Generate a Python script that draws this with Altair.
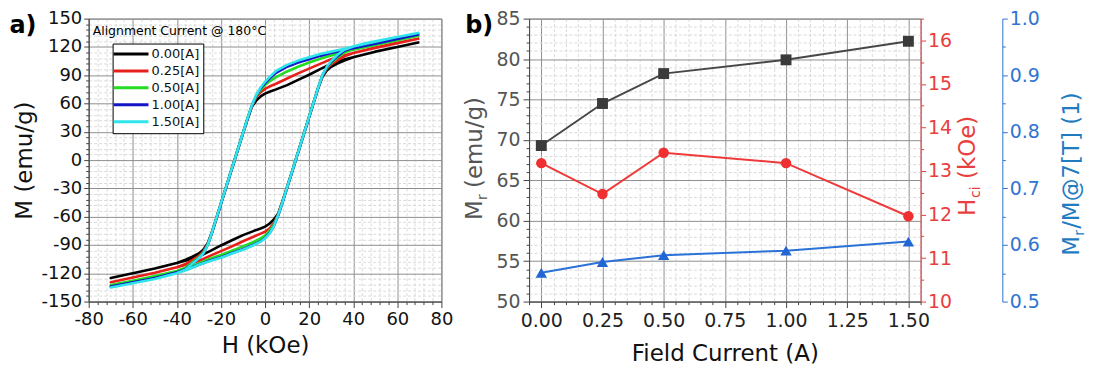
import altair as alt
import pandas as pd

# ---------------- Panel a: hysteresis loops ----------------
SERIES = ["0.00[A]", "0.25[A]", "0.50[A]", "1.00[A]", "1.50[A]"]
COLORS = ["#000000", "#e8201c", "#22dd22", "#1414c8", "#2fe4ea"]

H_DOWN = [70, 60, 50, 40, 35, 30, 25, 20, 15, 10, 5, 2, 0, -2, -4, -6, -8, -10, -12, -14,
          -16, -18, -20, -22, -24, -26, -28, -30, -33, -36, -40, -45, -50, -60, -70]
H_UP = [-70, -60, -50, -40, -35, -30, -25, -20, -15, -10, -5, -2, 0, 2, 4, 6, 8, 10, 12, 14,
        16, 18, 20, 22, 24, 26, 28, 30, 33, 36, 40, 45, 50, 60, 70]

M_DOWN_000 = [125, 120, 115, 109, 106, 102, 96.5, 90.5, 85, 79.5, 75, 72.5, 70.5, 67.5, 63, 56.5, 43, 28.5, 14, -1,
              -16, -31, -46, -61, -76, -88, -95, -99, -102.5, -105.5, -109, -112, -115, -120, -125]
M_UP_000 = [-125, -120, -115, -109, -106, -102, -96.5, -90.5, -85, -79.5, -75, -72.5, -70.5, -67.5, -63, -56.5, -43, -28.5, -14, 1,
            16, 31, 46, 61, 76, 88, 95, 99, 102.5, 105.5, 109, 112, 115, 120, 125]

M_DOWN_025 = [129, 124, 119, 113.5, 110.5, 107, 102, 97, 92, 86.5, 81, 78, 75.5, 72, 66.5, 57, 43.5, 29, 14, -1,
              -16, -31, -46, -61, -76, -89, -97, -101.5, -106, -110, -113.5, -116.5, -119.5, -124.5, -129.5]
M_UP_025 = [-129.5, -124.5, -119.5, -113.5, -110.5, -107, -101.5, -96.5, -91.5, -86, -81, -78, -76, -72.5, -67, -57.5, -43.5, -29, -14, 1,
            16, 31, 46, 61, 76, 89, 97, 101.5, 106, 110, 113.5, 116.5, 119.5, 124.5, 129]

M_DOWN_050 = [132, 127, 122, 117, 114, 111, 107.5, 103.5, 99, 94, 88, 83.5, 79.5, 74.5, 68, 57.5, 44, 29, 14, -1,
              -16, -31, -46, -61, -76, -89.5, -98, -103, -108.5, -114, -117.5, -120.5, -123, -128, -132.5]
M_UP_050 = [-132.5, -128, -123, -117.5, -114, -109.5, -104.5, -100.5, -96, -91.5, -86.5, -83, -80, -75, -68.5, -58, -44, -29, -14, 1,
            16, 31, 46, 61, 76, 89.5, 98, 103, 109, 114, 117.5, 120.5, 123, 128, 132]

M_DOWN_100 = [133.5, 128.5, 123.5, 118.5, 116, 113.5, 110.5, 107, 103.5, 99, 92.5, 86.5, 81.5, 76, 68.5, 57.5, 43.5, 28.5, 13.5, -1.5,
              -16.5, -31.5, -46.5, -61.5, -76.5, -90, -99, -104, -110, -115.5, -119, -122, -125, -129.5, -134]
M_UP_100 = [-134, -129.5, -125, -119, -115.5, -111, -106.5, -103, -98.5, -94.5, -89.5, -86, -82.5, -77.5, -70, -58.5, -44.5, -29.5, -14.5, 0.5,
            15.5, 30.5, 45.5, 60.5, 75.5, 89.5, 98.5, 104, 110.5, 116, 119, 122, 125, 129.5, 134]

M_DOWN_150 = [135, 130.5, 125.5, 120.5, 117.5, 115, 112.5, 109, 105.5, 101, 94.5, 88, 83, 77, 69, 58, 44, 29, 14, -1,
              -16, -31, -46, -61, -76, -90, -99, -104, -110, -116, -120, -123, -126, -130.5, -135]
M_UP_150 = [-135, -130.5, -126, -120, -116, -111, -107, -103.5, -99, -95, -90, -86.5, -83, -78, -70, -58, -44, -29, -14, 1,
            16, 31, 46, 61, 76, 90, 99, 105, 112, 117, 120.5, 123.5, 126, 130.5, 135]

LOOPS = {
    "0.00[A]": (M_DOWN_000, M_UP_000),
    "0.25[A]": (M_DOWN_025, M_UP_025),
    "0.50[A]": (M_DOWN_050, M_UP_050),
    "1.00[A]": (M_DOWN_100, M_UP_100),
    "1.50[A]": (M_DOWN_150, M_UP_150),
}

XA_TICKS = list(range(-80, 81, 4))
YA_TICKS = list(range(-150, 151, 6))

# ---------------- Panel b: remanence / coercivity ----------------
FIELD = [0.0, 0.25, 0.5, 1.0, 1.5]
MR = [69.3, 74.5, 78.2, 79.9, 82.2]
HCI = [13.18, 12.47, 13.42, 13.18, 11.96]
RATIO = [0.551, 0.570, 0.582, 0.590, 0.606]

XB_TICKS = [round(i * 0.05, 2) for i in range(-1, 32)]
YB_MR_TICKS = list(range(50, 86))
YB_HCI_TICKS = [10 + 0.5 * i for i in range(14)]
YB_RATIO_TICKS = [round(0.5 + 0.05 * i, 2) for i in range(11)]

FONT = "DejaVu Sans"
RED = "#e8403e"
BLUE = "#2f74d0"
GRAY = "#555555"

rows = []
for s in SERIES:
    down, up = LOOPS[s]
    k = 0
    for h, m in zip(H_DOWN, down):
        rows.append({"series": s, "H": h, "M": m, "idx": k}); k += 1
    for h, m in zip(H_UP, up):
        rows.append({"series": s, "H": h, "M": m, "idx": k}); k += 1
df_a = pd.DataFrame(rows)
df_b = pd.DataFrame({"field": FIELD, "Mr": MR, "Hci": HCI, "ratio": RATIO})


def cond(test, major, minor):
    return {"condition": {"test": test, "value": major}, "value": minor}


def note(text, x, y, size, color="#000000", angle=0, align="center", baseline="middle", weight="normal"):
    kw = dict(font=FONT, fontSize=size, color=color, align=align, baseline=baseline, fontWeight=weight)
    if angle:
        kw["angle"] = angle
    return alt.Chart(pd.DataFrame({"t": [text]})).mark_text(**kw).encode(
        text="t:N", x=alt.value(x), y=alt.value(y))


GRID_MAJOR = "#8f8f8f"
GRID_MINOR = "#dadada"

tx = "datum.value % 20 === 0"
ty = "datum.value % 30 === 0"
ax_a_x = alt.Axis(
    values=XA_TICKS, title="H (kOe)",
    labelExpr=f"{tx} ? '' + datum.value : ''",
    labelFont=FONT, labelFontSize=18, labelColor="#111111", labelPadding=3,
    labelOverlap=False, labelFlush=False,
    titleFont=FONT, titleFontSize=23, titleFontWeight="normal", titleColor="#111111", titlePadding=6,
    grid=True, gridColor=cond(tx, GRID_MAJOR, GRID_MINOR), gridDash=cond(tx, [], [3, 2]), gridWidth=1,
    tickSize=cond(tx, 6, 3), tickColor="#444444", domainColor="#444444")
ax_a_y = alt.Axis(
    values=YA_TICKS, title="M (emu/g)",
    labelExpr=f"{ty} ? '' + datum.value : ''",
    labelFont=FONT, labelFontSize=18, labelColor="#111111", labelPadding=2, labelOverlap=False,
    titleFont=FONT, titleFontSize=23, titleFontWeight="normal", titleColor="#111111", titlePadding=5,
    grid=True, gridColor=cond(ty, GRID_MAJOR, GRID_MINOR), gridDash=cond(ty, [], [3, 2]), gridWidth=1,
    tickSize=cond(ty, 5, 3), tickColor="#444444", domainColor="#444444")

loops = alt.Chart(df_a).mark_line(strokeWidth=2.6, strokeJoin="round").encode(
    x=alt.X("H:Q", scale=alt.Scale(domain=[-80, 80], nice=False, zero=False), axis=ax_a_x),
    y=alt.Y("M:Q", scale=alt.Scale(domain=[-150, 150], nice=False), axis=ax_a_y),
    color=alt.Color("series:N", scale=alt.Scale(domain=SERIES, range=COLORS), legend=alt.Legend(
        title=None, orient="none", legendX=24, legendY=25,
        symbolType="M-3.5,0H3.5", symbolSize=100, symbolStrokeWidth=3, symbolOffset=8,
        labelOffset=14, labelFont=FONT, labelFontSize=13, labelColor="#111111", labelLimit=0,
        strokeColor="#000000", fillColor="#ffffff", padding=4, rowPadding=3)),
    order=alt.Order("idx:Q"),
)

panel_a = alt.layer(
    loops,
    note("a)", -66, 7, 24, weight="bold"),
    note("Alignment Current @ 180°C", 4, 12, 12.5, align="left"),
).properties(width=354, height=284)

# ---------------- Panel b ----------------
txb = "abs(datum.value * 4 - round(datum.value * 4)) < 0.001"
tmr = "datum.value % 5 === 0"
thc = "datum.value % 1 === 0"
tra = "abs(datum.value * 10 - round(datum.value * 10)) < 0.001"

ax_b_x = alt.Axis(
    values=XB_TICKS, title="Field Current (A)",
    labelExpr=f"{txb} ? format(datum.value, '.2f') : ''",
    labelFont=FONT, labelFontSize=19, labelColor="#222222", labelPadding=4,
    labelOverlap=False, labelFlush=False,
    titleFont=FONT, titleFontSize=23, titleFontWeight="normal", titleColor="#111111", titlePadding=12,
    grid=True, gridColor=cond(txb, GRID_MAJOR, GRID_MINOR), gridDash=cond(txb, [], [3, 2]), gridWidth=1,
    tickSize=cond(txb, 6, 3), tickColor="#444444", domainColor="#444444")
ax_mr = alt.Axis(
    values=YB_MR_TICKS, title=None, orient="left",
    labelExpr=f"{tmr} ? '' + datum.value : ''",
    labelFont=FONT, labelFontSize=19, labelColor=GRAY, labelPadding=3, labelOverlap=False,
    grid=True, gridColor=cond(tmr, GRID_MAJOR, GRID_MINOR), gridDash=cond(tmr, [], [3, 2]), gridWidth=1,
    tickSize=cond(tmr, 6, 3), tickColor="#444444", domainColor="#444444")
ax_hci = alt.Axis(
    values=YB_HCI_TICKS, title=None, orient="right",
    labelExpr=f"{thc} ? '' + datum.value : ''",
    labelFont=FONT, labelFontSize=19, labelColor=RED, labelPadding=2, labelOverlap=False,
    grid=False, tickSize=cond(thc, 5, 3), tickColor=RED, domainColor=RED)
ax_ratio = alt.Axis(
    values=YB_RATIO_TICKS, title=None, orient="right", offset=82,
    labelExpr=f"{tra} ? format(datum.value, '.1f') : ''",
    labelFont=FONT, labelFontSize=19, labelColor=BLUE, labelPadding=2, labelOverlap=False,
    grid=False, tickSize=cond(tra, 5, 3), tickColor=BLUE, domainColor=BLUE)

xb = alt.X("field:Q", scale=alt.Scale(domain=[-0.05, 1.55], nice=False, zero=False), axis=ax_b_x)
base_b = alt.Chart(df_b)

mr_layer = base_b.mark_line(color="#474747", strokeWidth=2,
                            point=alt.OverlayMarkDef(shape="square", size=120, filled=True,
                                                     color="#3a3a3a", opacity=1)).encode(
    x=xb, y=alt.Y("Mr:Q", scale=alt.Scale(domain=[50, 85], nice=False, zero=False), axis=ax_mr))
hci_layer = base_b.mark_line(color="#ee3a3a", strokeWidth=2,
                             point=alt.OverlayMarkDef(shape="circle", size=110, filled=True,
                                                      color="#f03030", opacity=1)).encode(
    x=xb, y=alt.Y("Hci:Q", scale=alt.Scale(domain=[10, 16.5], nice=False, zero=False), axis=ax_hci))
ratio_layer = base_b.mark_line(color="#2a72d8", strokeWidth=2,
                               point=alt.OverlayMarkDef(shape="triangle-up", size=130, filled=True,
                                                        color="#2266d4", opacity=1)).encode(
    x=xb, y=alt.Y("ratio:Q", scale=alt.Scale(domain=[0.5, 1.0], nice=False, zero=False), axis=ax_ratio))

TITLE_BLUE = "#1f7cc0"
panel_b = alt.layer(
    mr_layer, hci_layer, ratio_layer,
    note("b)", -50, 7, 24, weight="bold"),
    # left title  M_r (emu/g)
    note("M", -47, 202, 23, color=GRAY, angle=270, align="left", baseline="alphabetic"),
    note("r", -42, 182, 14, color=GRAY, angle=270, align="left", baseline="alphabetic"),
    note("(emu/g)", -47, 170, 23, color=GRAY, angle=270, align="left", baseline="alphabetic"),
    # red title  H_ci (kOe)
    note("H", 448, 198, 23, color=RED, angle=270, align="left", baseline="alphabetic"),
    note("ci", 453, 180, 14, color=RED, angle=270, align="left", baseline="alphabetic"),
    note("(kOe)", 448, 161, 23, color=RED, angle=270, align="left", baseline="alphabetic"),
    # blue title  M_r/M@7[T] (1)
    note("M", 552, 238, 23, color=TITLE_BLUE, angle=270, align="left", baseline="alphabetic"),
    note("r", 557, 218, 14, color=TITLE_BLUE, angle=270, align="left", baseline="alphabetic"),
    note("/M@7[T] (1)", 552, 211, 23, color=TITLE_BLUE, angle=270, align="left", baseline="alphabetic"),
).resolve_scale(y="independent").properties(width=393, height=284)

chart = alt.hconcat(panel_a, panel_b, spacing=88, bounds="flush").configure(
    padding=0, font=FONT
).configure_view(stroke="#7a7a7a", strokeWidth=1)

chart.save("out.html", embed_options={"renderer": "svg", "actions": False})
